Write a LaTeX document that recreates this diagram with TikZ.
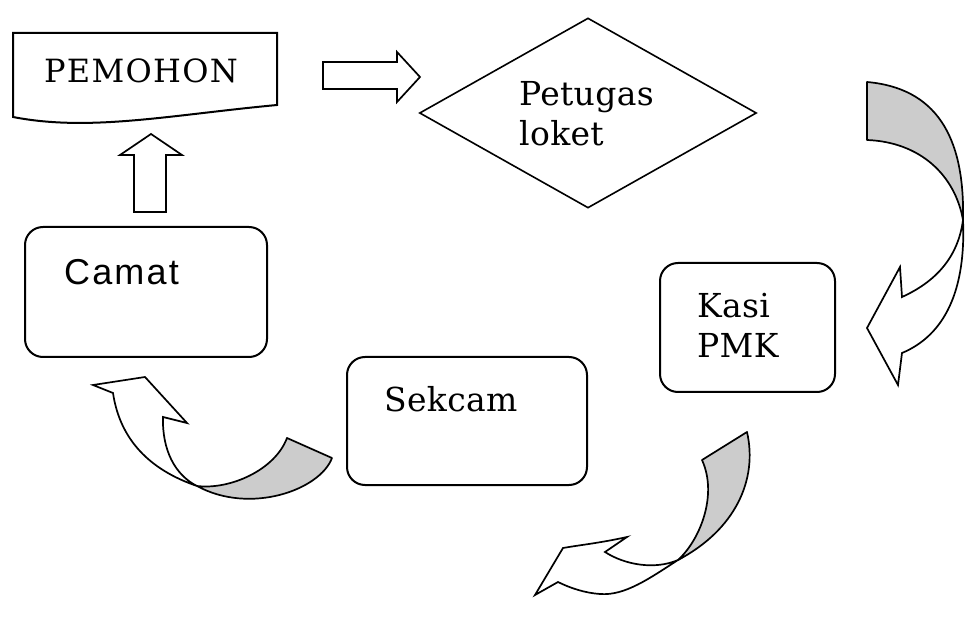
\documentclass[tikz,border=0pt]{standalone}
\usepackage{fontspec}
\newfontfamily\lblserif{DejaVu Serif}[LetterSpace=1]
\newfontfamily\lblsanss{Liberation Sans}[LetterSpace=6]
\usetikzlibrary{shapes.geometric}
\tikzset{
  box/.style={draw, line width=2pt, rounded corners=18pt, inner sep=0pt},
  dia/.style={draw, line width=1.6pt, shape=diamond, inner sep=0pt},
  lbl/.style={anchor=base west, inner sep=0pt, font=\lblserif\fontsize{33}{40}\selectfont},
  lblsans/.style={anchor=base west, inner sep=0pt, font=\lblsanss\fontsize{36}{40}\selectfont},
  blk/.style={draw, line width=1.7pt, fill=white, line join=miter},
  rib/.style={draw, line width=1.7pt, fill=black!20, line join=round},
  ribw/.style={draw, line width=1.7pt, fill=white, line join=miter},
}
\begin{document}
\begin{tikzpicture}[x=1pt, y=-1pt]
\useasboundingbox (0,0) rectangle (978,628);

% PEMOHON document shape
\draw[line width=2pt] (13,33) -- (277,33) -- (277,105)
   .. controls (170,115) and (90,132) .. (13,117) -- cycle;
\node[lbl, font=\lblserif\fontsize{32}{40}\selectfont\addfontfeatures{LetterSpace=4}] (pemohon) at (44,83) {PEMOHON};

% right block arrow
\draw[blk] (323,62) -- (397,62) -- (397,52) -- (420,77) -- (397,102) -- (397,89) -- (323,89) -- cycle;

% up block arrow
\draw[blk] (134,212) -- (134,155) -- (120,155) -- (151,134) -- (182,155) -- (166,155) -- (166,212) -- cycle;

% diamond
\node[dia, minimum width=337pt, minimum height=190pt] (loketbox) at (588,113) {};
\node[lbl] (petugas) at (519,106) {Petugas};
\node[lbl] (loket) at (519,146) {loket};

% boxes
\node[box, minimum width=242pt, minimum height=130pt] (camatbox) at (146,292) {};
\node[lblsans] (camat) at (64,285) {Camat};

\node[box, minimum width=175pt, minimum height=129pt] (kasibox) at (747.5,327.5) {};
\node[lbl] (kasi) at (697,318) {Kasi};
\node[lbl] (pmk) at (697,358) {PMK};

\node[box, minimum width=240pt, minimum height=128pt] (sekcambox) at (467,421) {};
\node[lbl] (sekcam) at (384,412) {Sekcam};

% right curved arrow
\draw[ribw] (963,220) .. controls (966,290) and (945,335) .. (902,353) -- (898,385) -- (867,328)
   -- (900,267) -- (902,297) .. controls (935,282) and (958,258) .. (963,220) -- cycle;
\draw[rib] (867,82) .. controls (935,88) and (965,135) .. (963,220)
   .. controls (955,175) and (920,142) .. (867,140) -- cycle;

% bottom curved arrow
\draw[ribw] (678,560) .. controls (650,578) and (625,596) .. (600,594)
   .. controls (585,593) and (570,588) .. (558,582) -- (535,595) -- (563,548)
   .. controls (580,545) and (600,543) .. (627,537) -- (605,552)
   .. controls (625,565) and (655,570) .. (678,560) -- cycle;
\draw[rib] (702,460) -- (747,432) .. controls (758,480) and (735,530) .. (678,560)
   .. controls (700,540) and (718,495) .. (702,460) -- cycle;

% left curved arrow
\draw[ribw] (197,486) .. controls (150,470) and (120,440) .. (113,393) -- (93,385) -- (145,377)
   -- (187,423) -- (163,417) .. controls (162,450) and (175,475) .. (197,486) -- cycle;
\draw[rib] (287,438) -- (332,458) .. controls (320,490) and (250,515) .. (197,486)
   .. controls (230,490) and (275,470) .. (287,438) -- cycle;
\end{tikzpicture}
\end{document}
